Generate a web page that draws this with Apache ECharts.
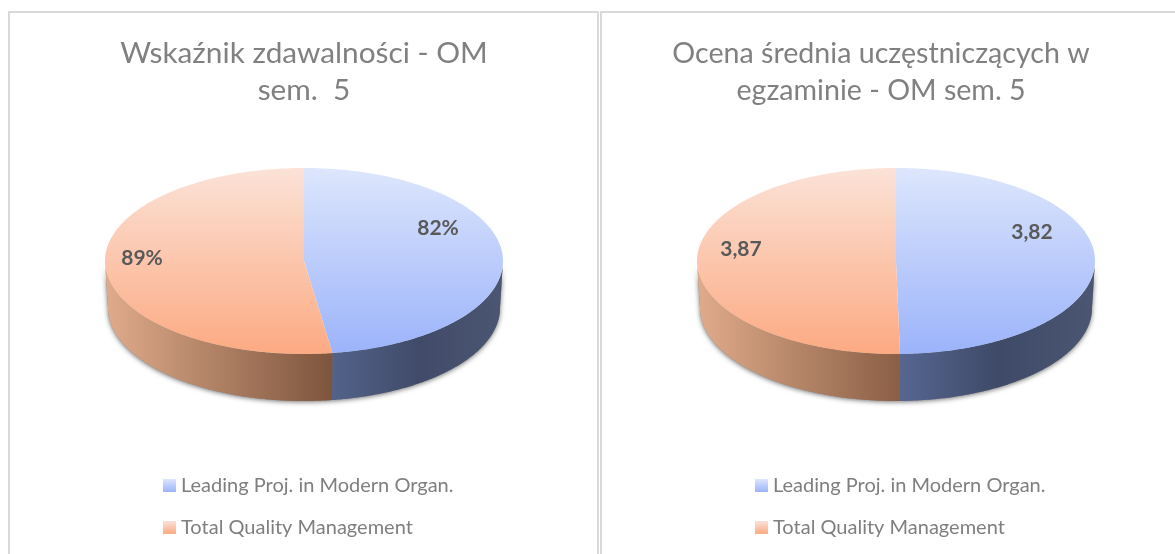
<!DOCTYPE html>
<html><head><meta charset="utf-8">
<style>html,body{margin:0;padding:0;background:#fff}#c{width:1175px;height:554px}</style>
<script src="https://cdn.jsdelivr.net/npm/echarts@6/dist/echarts.min.js"></script>
</head><body><div id="c"></div>
<script>
const categories = ['Leading Proj. in Modern Organ.', 'Total Quality Management'];
const passRate = [81.6, 89.4];
const avgGrade = [3.82, 3.87];
const passLabels = ['82%', '89%'];
const gradeLabels = ['3,82', '3,87'];
const titles = ['Wskaźnik zdawalności - OM\nsem.  5', 'Ocena średnia uczęstniczących w\negzaminie - OM sem. 5'];

const FONT = 'Lato';
const pies = [
  {values: passRate, labels: passLabels, cx: 304, cy: 261, labelPos: [[438, 228], [142, 258]], wall: [['#52628a', '#414b69', '#4b5672'], ['#e0ab8b', '#7d553d']]},
  {values: avgGrade, labels: gradeLabels, cx: 896, cy: 261, labelPos: [[1032, 232], [741, 249]], wall: [['#566691', '#3f4a68', '#4b5672'], ['#e0ab8b', '#8a5f45']]}
];
const RX = 199, RY = 93, BRX = 196, DEPTH = 47;
const topColors = [['#dde6fc', '#9bb3fa'], ['#fbe2d7', '#fcaa82']];

function pt(cx, cy, rx, ry, a) { return [cx + rx * Math.sin(a), cy - ry * Math.cos(a)]; }
function arc(cx, cy, rx, ry, a0, a1) {
  const n = Math.max(2, Math.ceil(Math.abs(a1 - a0) / 0.01)), out = [];
  for (let i = 0; i <= n; i++) out.push(pt(cx, cy, rx, ry, a0 + (a1 - a0) * i / n));
  return out;
}
function lin(x, y, x2, y2, stops) {
  return {type: 'linear', x, y, x2, y2, global: true,
    colorStops: stops.map((c, i) => ({offset: i / (stops.length - 1), color: c}))};
}
function sliceRenderer(p, idx) {
  return function () {
    const total = p.values[0] + p.values[1];
    const share = p.values[0] / total * Math.PI * 2;
    const a0 = idx === 0 ? 0 : share, a1 = idx === 0 ? share : Math.PI * 2;
    const {cx, cy} = p;
    const children = [];
    const w0 = Math.max(a0, Math.PI / 2), w1 = Math.min(a1, Math.PI * 1.5);
    if (w1 > w0) {
      const up = arc(cx, cy, RX, RY, w0, w1);
      const down = arc(cx, cy + DEPTH, BRX, RY, w1, w0);
      const xs = up.map(q => q[0]), minX = Math.min(...xs), maxX = Math.max(...xs);
      const stops = p.wall[idx];
      children.push({type: 'polygon', z2: 0, shape: {points: up.concat(down)},
        style: {fill: '#888', shadowColor: 'rgba(0,0,0,0.55)', shadowBlur: 5, shadowOffsetY: 1}, silent: true});
      children.push({type: 'polygon', z2: 1, shape: {points: up.concat(down)},
        style: {fill: lin(minX, 0, maxX, 0, stops)}, silent: true});
    }
    children.push({type: 'polygon', z2: 2,
      shape: {points: [[cx, cy]].concat(arc(cx, cy, RX, RY, a0, a1))},
      style: {fill: lin(0, cy - RY, 0, cy + RY, topColors[idx])}});
    children.push({type: 'text', z2: 3, x: p.labelPos[idx][0], y: p.labelPos[idx][1],
      style: {text: p.labels[idx], fill: '#595959', font: 'bold 21px ' + FONT, align: 'center', verticalAlign: 'middle'}});
    return {type: 'group', children};
  };
}

const series = [];
pies.forEach(p => categories.forEach((name, idx) => series.push({
  type: 'custom', name, coordinateSystem: 'none', animation: false,
  data: [p.values[idx]],
  itemStyle: {color: {type: 'linear', x: 0, y: 0, x2: 0, y2: 1, colorStops: [{offset: 0, color: topColors[idx][0]}, {offset: 1, color: topColors[idx][1]}]}},
  renderItem: sliceRenderer(p, idx)
})));

const legend = [163, 755].map(left => ({
  data: categories.map(name => ({name, icon: 'rect'})), left, top: 475, orient: 'vertical', selectedMode: false,
  itemWidth: 13, itemHeight: 13, itemGap: 21, padding: 0,
  textStyle: {fontFamily: FONT, fontSize: 20, color: '#7f7f7f', height: 21, lineHeight: 21}
}));

const chart = echarts.init(document.getElementById('c'), null, {renderer: 'canvas'});
chart.setOption({
  animation: false, backgroundColor: '#fff',
  title: titles.map((text, i) => ({text, left: i ? 881 : 304, top: 35, textAlign: 'center', padding: 0,
    textStyle: {fontFamily: FONT, fontSize: i ? 28.6 : 29.8, fontWeight: 'normal', color: '#808080', lineHeight: 37}})),
  legend,
  series,
  graphic: [
    {type: 'rect', silent: true, z: -1, shape: {x: 9, y: 12, width: 589, height: 600}, style: {fill: 'none', stroke: '#d9d9d9', lineWidth: 2}},
    {type: 'rect', silent: true, z: -1, shape: {x: 601, y: 12, width: 600, height: 600}, style: {fill: 'none', stroke: '#d9d9d9', lineWidth: 2}}
  ]
});
</script></body></html>
